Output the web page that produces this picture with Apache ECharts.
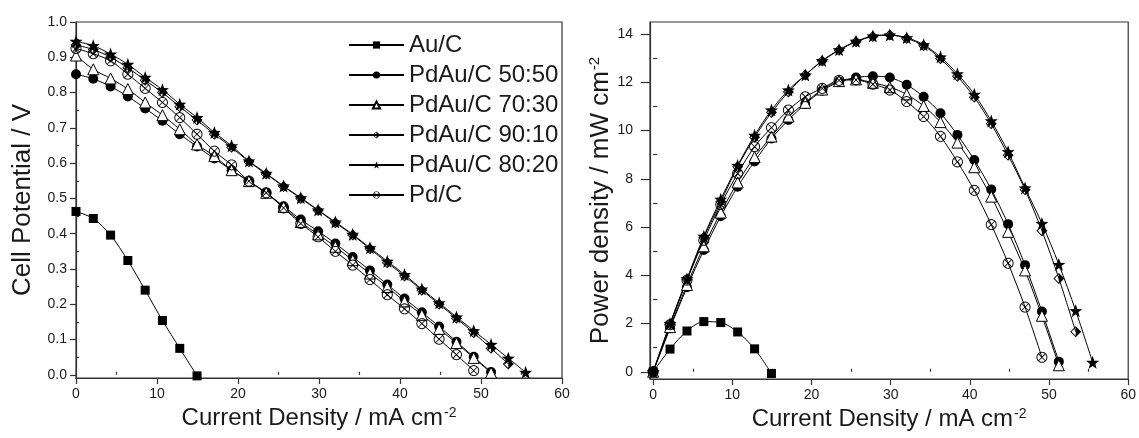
<!DOCTYPE html>
<html><head><meta charset="utf-8">
<script src="https://cdn.jsdelivr.net/npm/echarts@6/dist/echarts.min.js"></script>
<style>html,body{margin:0;padding:0;background:#fff}#c{width:1139px;height:438px}</style>
</head><body><div id="c"></div>
<script>
// ---------- data ----------
const currentDensity = [0, 2.13, 4.27, 6.40, 8.54, 10.67, 12.81, 14.94, 17.08, 19.21, 21.35, 23.48, 25.62, 27.75, 29.89, 32.02, 34.16, 36.29, 38.43, 40.56, 42.70, 44.83, 46.97, 49.10, 51.24, 53.37, 55.51];
const seriesNames = ['Au/C', 'PdAu/C 50:50', 'PdAu/C 70:30', 'PdAu/C 90:10', 'PdAu/C 80:20', 'Pd/C'];

// cell potential / V
const potAuC   = [0.463, 0.443, 0.396, 0.324, 0.240, 0.154, 0.075, -0.003];
const pot5050  = [0.852, 0.839, 0.817, 0.789, 0.755, 0.720, 0.682, 0.647, 0.613, 0.580, 0.548, 0.515, 0.478, 0.440, 0.407, 0.372, 0.334, 0.296, 0.256, 0.216, 0.177, 0.137, 0.094, 0.051, 0.008];
const pot7030  = [0.905, 0.866, 0.840, 0.810, 0.772, 0.736, 0.696, 0.653, 0.620, 0.580, 0.549, 0.516, 0.476, 0.433, 0.398, 0.363, 0.325, 0.287, 0.249, 0.208, 0.170, 0.130, 0.090, 0.048, 0.006];
const pot9010  = [0.935, 0.922, 0.900, 0.870, 0.835, 0.800, 0.760, 0.722, 0.682, 0.645, 0.604, 0.569, 0.534, 0.500, 0.466, 0.431, 0.396, 0.357, 0.318, 0.280, 0.240, 0.200, 0.160, 0.119, 0.075, 0.031];
const pot8020  = [0.945, 0.933, 0.909, 0.880, 0.843, 0.808, 0.767, 0.729, 0.687, 0.649, 0.606, 0.571, 0.535, 0.502, 0.467, 0.433, 0.398, 0.360, 0.322, 0.284, 0.243, 0.204, 0.164, 0.125, 0.086, 0.047, 0.007];
const potPdC   = [0.925, 0.910, 0.890, 0.852, 0.812, 0.772, 0.729, 0.682, 0.634, 0.595, 0.549, 0.516, 0.473, 0.429, 0.391, 0.350, 0.311, 0.270, 0.227, 0.187, 0.145, 0.101, 0.057, 0.012];

// power density / mW cm-2
const powAuC   = [0, 0.94, 1.69, 2.08, 2.04, 1.65, 0.95, -0.07];
const pow5050  = [0, 1.80, 3.50, 5.05, 6.45, 7.67, 8.72, 9.67, 10.44, 11.10, 11.65, 12.02, 12.20, 12.25, 12.20, 11.90, 11.40, 10.72, 9.82, 8.78, 7.56, 6.12, 4.42, 2.50, 0.42];
const pow7030  = [0, 1.85, 3.60, 5.20, 6.60, 7.85, 8.90, 9.75, 10.58, 11.15, 11.70, 12.05, 12.12, 11.98, 11.80, 11.50, 11.02, 10.35, 9.50, 8.48, 7.26, 5.80, 4.20, 2.32, 0.27];
const pow9010  = [0, 1.97, 3.82, 5.57, 7.05, 8.50, 9.72, 10.75, 11.60, 12.30, 12.88, 13.33, 13.68, 13.90, 13.96, 13.82, 13.52, 12.98, 12.25, 11.38, 10.28, 8.98, 7.55, 5.85, 3.87, 1.66];
const pow8020  = [0, 2.00, 3.85, 5.62, 7.15, 8.55, 9.80, 10.85, 11.68, 12.30, 12.90, 13.35, 13.70, 13.92, 13.96, 13.85, 13.56, 13.05, 12.35, 11.50, 10.40, 9.12, 7.62, 6.15, 4.45, 2.53, 0.39];
const powPdC   = [0, 1.95, 3.80, 5.45, 6.93, 8.22, 9.33, 10.12, 10.85, 11.40, 11.75, 12.08, 12.10, 11.92, 11.68, 11.20, 10.58, 9.76, 8.70, 7.52, 6.10, 4.50, 2.68, 0.60];

// tick labels
const xTicks = [0, 10, 20, 30, 40, 50, 60];
const xMinorTicks = [5, 15, 25, 35, 45, 55];
const potTicks = [0, 0.1, 0.2, 0.3, 0.4, 0.5, 0.6, 0.7, 0.8, 0.9, 1.0];
const potMinorTicks = [0.05, 0.15, 0.25, 0.35, 0.45, 0.55, 0.65, 0.75, 0.85, 0.95];
const powTicks = [0, 2, 4, 6, 8, 10, 12, 14];
const powMinorTicks = [1, 3, 5, 7, 9, 11, 13];

// ---------- marker shapes ----------
function signedArea(p){let a=0;for(let i=0;i<p.length;i++){const q=p[(i+1)%p.length];a+=p[i][0]*q[1]-q[0]*p[i][1];}return a;}
function poly(p, hole){const a=signedArea(p);if((a<0)!==!!hole)p=p.slice().reverse();return 'M'+p.map(v=>v[0].toFixed(2)+' '+v[1].toFixed(2)).join(' L')+' Z ';}
function circlePts(cx,cy,r,n){const p=[];for(let i=0;i<n;i++){const t=2*Math.PI*i/n;p.push([cx+r*Math.cos(t),cy+r*Math.sin(t)]);}return p;}
function bar(x1,y1,x2,y2,w){const dx=x2-x1,dy=y2-y1,l=Math.hypot(dx,dy),nx=-dy/l*w/2,ny=dx/l*w/2;return [[x1+nx,y1+ny],[x2+nx,y2+ny],[x2-nx,y2-ny],[x1-nx,y1-ny]];}
const starPts=[];for(let i=0;i<10;i++){const t=-Math.PI/2+i*Math.PI/5,r=i%2?4.1:10;starPts.push([10+r*Math.cos(t),10+r*Math.sin(t)]);}
const starSymbol='path://'+poly(starPts);
const halfDiamondSymbol='path://'+poly([[10,0],[20,10],[10,20],[0,10]])+poly([[10,2.3],[2.3,10],[10,17.7]],true);
const crossCircleSymbol='path://'+poly(circlePts(10,10,10,28))+poly(circlePts(10,10,8.3,28),true)+poly(bar(4.3,4.3,15.7,15.7,1.5))+poly(bar(15.7,4.3,4.3,15.7,1.5));

const styles = [
  {symbol:'rect', size:9, color:'#000', border:0},
  {symbol:'circle', size:10, color:'#000', border:0},
  {symbol:'triangle', size:11, color:'#fff', border:1},
  {symbol:halfDiamondSymbol, size:11, color:'#000', border:0},
  {symbol:starSymbol, size:13, color:'#000', border:0},
  {symbol:crossCircleSymbol, size:11, color:'#000', border:0}
];
const potData=[potAuC,pot5050,pot7030,pot9010,pot8020,potPdC];
const powData=[powAuC,pow5050,pow7030,pow9010,pow8020,powPdC];

function pairs(vals){return vals.map((v,i)=>[currentDensity[i],v]);}
function mkSeries(i,vals,xi,yi){
  const s=styles[i];
  return {type:'line',name:seriesNames[i],xAxisIndex:xi,yAxisIndex:yi,data:pairs(vals),
    smooth:0.3,symbol:s.symbol,symbolSize:s.size,showAllSymbol:true,clip:false,
    lineStyle:{color:'#000',width:1},
    itemStyle:{color:s.color,borderColor:'#000',borderWidth:s.border,opacity:1},
    emphasis:{disabled:true}};
}

const FONT='"Liberation Sans", Arial, Helvetica, sans-serif';
const TXT='#1a1a1a';
const AX='#333';
const supRich={sup:{fontSize:14,fontFamily:FONT,color:TXT,verticalAlign:'top',padding:[0,0,11,1]}};
function mainAxis(o){
  return Object.assign({type:'value',splitLine:{show:false},
    axisLine:{show:true,onZero:false,lineStyle:{color:AX,width:1.2}},
    nameLocation:'middle'
  },o);
}
function minorAxis(o){
  return Object.assign({type:'value',splitLine:{show:false},axisLine:{show:false},
    axisLabel:{show:false},silent:true},o);
}
function tick(len,vals){return {show:true,inside:false,length:len,customValues:vals,lineStyle:{color:AX,width:1.2}};}
function lab(margin,vals,fmt){const o={color:TXT,fontSize:14,fontFamily:FONT,margin:margin,customValues:vals};if(fmt)o.formatter=fmt;return o;}

const option = {
  animation:false,
  backgroundColor:'#fff',
  textStyle:{fontFamily:FONT},
  grid:[
    {left:76,right:577,top:22,bottom:60,show:true,borderColor:AX,borderWidth:1.2,containLabel:false},
    {left:650,right:3,top:22,bottom:59,show:true,borderColor:AX,borderWidth:1.2,containLabel:false}
  ],
  legend:{orient:'vertical',left:343,top:28,itemWidth:55,itemHeight:9,itemGap:6,
    data:seriesNames,selectedMode:false,
    textStyle:{color:TXT,fontSize:24,fontFamily:FONT,lineHeight:23}},
  xAxis:[
    mainAxis({gridIndex:0,min:0,max:60,name:'Current Density / mA cm{sup|-2}',nameGap:25,
      nameTextStyle:{color:TXT,fontSize:24,fontFamily:FONT,rich:supRich},
      axisTick:tick(6,xTicks),axisLabel:lab(9,xTicks)}),
    minorAxis({gridIndex:0,min:0,max:60,axisTick:tick(3,xMinorTicks)}),
    mainAxis({gridIndex:1,min:-0.4,max:60,name:'Current Density / mA cm{sup|-2}',nameGap:25,
      nameTextStyle:{color:TXT,fontSize:24,fontFamily:FONT,rich:supRich},
      axisTick:tick(6,xTicks),axisLabel:lab(9,xTicks)}),
    minorAxis({gridIndex:1,min:-0.4,max:60,axisTick:tick(3,xMinorTicks)})
  ],
  yAxis:[
    mainAxis({gridIndex:0,min:-0.009,max:1.0,name:'Cell Potential / V',nameGap:40,
      nameTextStyle:{color:TXT,fontSize:26,fontFamily:FONT},
      axisTick:tick(6,potTicks),axisLabel:lab(9,potTicks,v=>v.toFixed(1))}),
    minorAxis({gridIndex:0,min:-0.009,max:1.0,axisTick:tick(3,potMinorTicks)}),
    mainAxis({gridIndex:1,min:-0.3,max:14.5,name:'Power density / mW cm{sup|-2}',nameGap:33,
      nameTextStyle:{color:TXT,fontSize:26,fontFamily:FONT,rich:{sup:{fontSize:15,fontFamily:FONT,color:TXT,verticalAlign:'top',padding:[0,0,12,1]}}},
      axisTick:tick(9,powTicks),axisLabel:lab(17,powTicks)}),
    minorAxis({gridIndex:1,min:-0.3,max:14.5,axisTick:tick(4,powMinorTicks)})
  ],
  series:[]
};
for(let i=0;i<6;i++) option.series.push(mkSeries(i,potData[i],0,0));
for(let i=0;i<6;i++) option.series.push(mkSeries(i,powData[i],2,2));

const chart=echarts.init(document.getElementById('c'),null,{renderer:'canvas'});
chart.setOption(option);
</script></body></html>
